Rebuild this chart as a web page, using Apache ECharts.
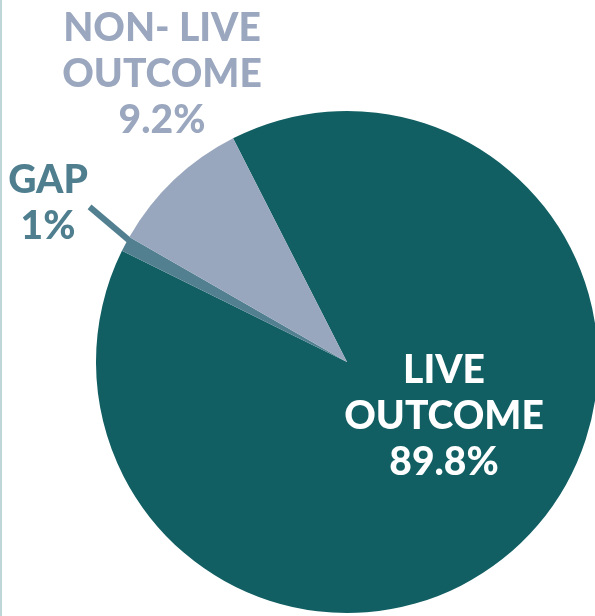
<!DOCTYPE html>
<html><head><meta charset="utf-8">
<script src="https://cdn.jsdelivr.net/npm/echarts@6/dist/echarts.min.js"></script>
<style>html,body{margin:0;padding:0;background:#fff}#c{width:595px;height:616px}</style>
</head><body><div id="c"></div>
<script>
const categories = ['LIVE\nOUTCOME', 'GAP', 'NON- LIVE\nOUTCOME'];
const values = [89.8, 1, 9.2];
const valueLabels = ['89.8%', '1%', '9.2%'];
const colors = ['#125F63', '#538090', '#99A7BE'];
const labelColors = ['#ffffff', '#4F7E8E', '#9AA7BE'];

const chart = echarts.init(document.getElementById('c'));
const labelPos = [[444, 416], [48, 203], [162, 74]];
chart.setOption({
  animation: false,
  graphic: [{type: 'rect', shape: {x: 0, y: 0, width: 2, height: 616}, style: {fill: '#BFD6D8'}}],
  series: [{
    type: 'pie',
    center: [347, 362],
    radius: 251,
    startAngle: 117,
    clockwise: true,
    data: categories.map((c, i) => ({
      name: c, value: values[i],
      itemStyle: {color: colors[i]},
      label: {
        show: true,
        position: i === 0 ? 'inside' : 'outside',
        formatter: c + '\n' + valueLabels[i],
        color: labelColors[i],
        fontFamily: 'Lato', fontWeight: 900, fontSize: 39, lineHeight: 46,
        align: 'center', overflow: 'none', width: 300
      },
      labelLine: {show: i === 1, length: 30, length2: 0, lineStyle: {color: colors[1], width: 6}}
    })),
    labelLayout: function (p) {
      const pos = labelPos[p.dataIndex];
      const out = {x: pos[0], y: pos[1], align: 'center', verticalAlign: 'middle'};
      if (p.dataIndex === 1 && p.labelLinePoints) {
        const s = p.labelLinePoints[0];
        out.labelLinePoints = [[s[0] + 3, s[1] - 4], [s[0] - 36, s[1] - 37], [s[0] - 36, s[1] - 37]];
      }
      return out;
    }
  }]
});
</script></body></html>
